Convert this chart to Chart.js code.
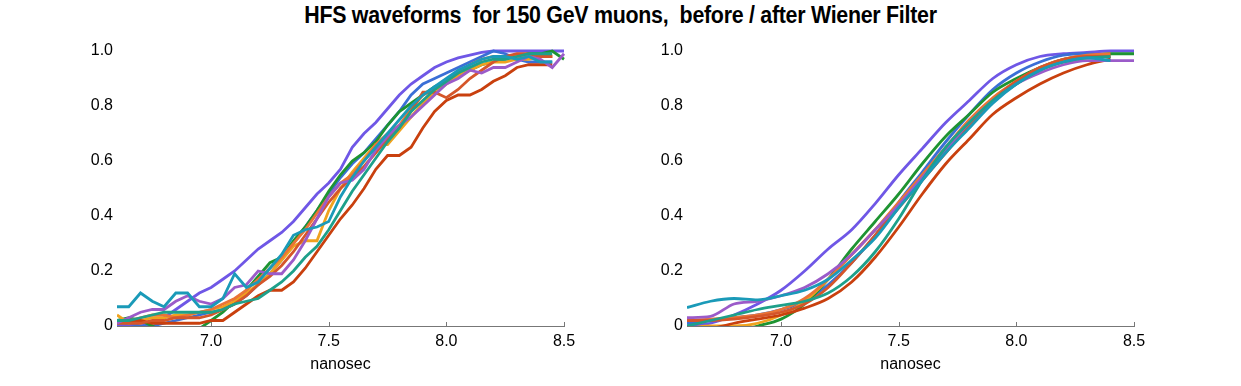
<!DOCTYPE html>
<html>
<head>
<meta charset="utf-8">
<script src="https://cdn.jsdelivr.net/npm/chart.js@4.4.1/dist/chart.umd.min.js"></script>
<style>
  body { margin: 0; background: #fff; }
  #wrap { position: relative; width: 1241px; height: 386px; overflow: hidden; }
  #title {
    position: absolute; left: 0; top: 2px; width: 1241px; text-align: center;
    font-family: "Liberation Sans", Arial, sans-serif;
    font-weight: bold; font-size: 23px; color: #000; letter-spacing: -0.3px;
    transform: scaleX(0.93); transform-origin: 620px 0;
  }
  .box { position: absolute; top: 0; width: 620px; height: 386px; }
</style>
</head>
<body>
<div id="wrap">
  <div id="title">HFS waveforms&nbsp; for 150 GeV muons,&nbsp; before / after Wiener Filter</div>
  <div class="box" style="left:0"><canvas id="rawChart"></canvas></div>
  <div class="box" style="left:570px"><canvas id="filtChart"></canvas></div>
</div>
<script>
// time samples (ns)
const rawTimes = [6.60, 6.65, 6.70, 6.75, 6.80, 6.85, 6.90, 6.95, 7.00, 7.05, 7.10, 7.15, 7.20,
  7.25, 7.30, 7.35, 7.40, 7.45, 7.50, 7.55, 7.60, 7.65, 7.70, 7.75, 7.80, 7.85, 7.90, 7.95,
  8.00, 8.05, 8.10, 8.15, 8.20, 8.25, 8.30, 8.35, 8.40, 8.45, 8.50];
const filtTimes = [6.6, 6.7, 6.8, 6.9, 7.0, 7.1, 7.2, 7.3, 7.4, 7.5, 7.6, 7.7, 7.8, 7.9,
  8.0, 8.1, 8.2, 8.3, 8.4, 8.5];

const xTicks = [7.0, 7.5, 8.0, 8.5];
const yTicks = [0, 0.2, 0.4, 0.6, 0.8, 1.0];

const colors = ['#6F57E6', '#3A6FD6', '#1E9432', '#F0A21E', '#EA7436',
  '#C9400E', '#D5562A', '#9B5BC9', '#1EA08A', '#1A9AB8'];

// before filter
const rawViolet = [0.00,0.00,0.00,0.01,0.03,0.06,0.09,0.12,0.14,0.17,0.20,0.24,0.28,0.31,0.34,0.38,0.43,0.48,0.52,0.57,0.65,0.70,0.74,0.79,0.84,0.88,0.91,0.94,0.96,0.975,0.985,0.995,1.0,1.0,1.0,1.0,1.0,1.0,1.0];
const rawBlue = [0.01,0.01,0.00,0.00,0.01,0.02,0.03,0.04,0.05,0.06,0.08,0.11,0.15,0.19,0.24,0.30,0.36,0.42,0.48,0.54,0.59,0.63,0.68,0.73,0.78,0.84,0.88,0.90,0.92,0.94,0.96,0.98,1.0,0.99,0.97,0.96,0.96,0.96];
const rawGreen = [0.02,0.03,0.02,0.00,-0.02,-0.01,-0.03,-0.01,0.02,0.05,0.09,0.13,0.18,0.23,0.25,0.31,0.36,0.42,0.49,0.55,0.60,0.63,0.67,0.73,0.78,0.81,0.84,0.87,0.89,0.91,0.93,0.95,0.96,0.97,0.98,0.99,0.99,1.0,0.97];
const rawOrange = [0.04,0.01,0.02,0.03,0.03,0.04,0.04,0.05,0.06,0.07,0.09,0.12,0.15,0.19,0.24,0.29,0.31,0.31,0.42,0.50,0.56,0.61,0.66,0.66,0.71,0.76,0.81,0.85,0.88,0.91,0.93,0.95,0.96,0.96,0.97,0.97,0.98,0.98];
const rawSalmon = [0.02,0.02,0.03,0.04,0.04,0.03,0.04,0.05,0.06,0.08,0.10,0.13,0.17,0.21,0.25,0.30,0.35,0.41,0.47,0.52,0.55,0.60,0.66,0.70,0.73,0.79,0.84,0.86,0.89,0.92,0.95,0.97,0.98,0.98,0.98,0.98,0.98,0.98];
const rawRed = [0.02,0.02,0.02,0.01,0.01,0.01,0.01,0.01,0.02,0.02,0.05,0.08,0.11,0.13,0.13,0.16,0.21,0.27,0.33,0.39,0.44,0.50,0.57,0.62,0.62,0.65,0.72,0.78,0.82,0.84,0.84,0.86,0.89,0.91,0.94,0.95,0.95,0.95];
const rawBrick = [0.01,0.01,0.01,0.02,0.02,0.03,0.03,0.03,0.04,0.06,0.08,0.11,0.15,0.18,0.22,0.27,0.33,0.39,0.45,0.50,0.54,0.58,0.63,0.68,0.72,0.78,0.85,0.85,0.83,0.86,0.90,0.93,0.96,0.98,0.99,0.99,0.98,0.98];
const rawPurple = [0.01,0.03,0.05,0.06,0.06,0.09,0.11,0.09,0.08,0.10,0.14,0.15,0.20,0.19,0.19,0.24,0.31,0.39,0.47,0.52,0.53,0.57,0.64,0.69,0.73,0.76,0.80,0.84,0.88,0.90,0.93,0.92,0.94,0.94,0.96,0.98,0.97,0.94,0.99];
const rawTeal = [0.02,0.02,0.03,0.04,0.05,0.05,0.05,0.05,0.05,0.06,0.08,0.09,0.10,0.13,0.16,0.20,0.25,0.29,0.35,0.42,0.49,0.55,0.61,0.67,0.72,0.78,0.82,0.86,0.89,0.92,0.94,0.96,0.97,0.97,0.98,0.99,0.99,0.99];
const rawCyan = [0.07,0.07,0.12,0.09,0.07,0.12,0.12,0.07,0.07,0.10,0.19,0.14,0.16,0.21,0.26,0.33,0.35,0.36,0.38,0.47,0.54,0.60,0.65,0.70,0.75,0.80,0.84,0.87,0.90,0.93,0.95,0.97,0.98,0.98,0.97,0.98,0.96,0.96];

// after Wiener filter
const filtViolet = [0.00,0.01,0.04,0.08,0.13,0.20,0.28,0.35,0.445,0.55,0.645,0.74,0.82,0.90,0.95,0.98,0.99,0.995,1.0,1.0];
const filtBlue = [0.01,0.02,0.03,0.04,0.06,0.09,0.15,0.23,0.33,0.45,0.56,0.67,0.77,0.86,0.92,0.96,0.985,0.99,0.975];
const filtGreen = [-0.04,-0.03,-0.02,0.00,0.025,0.08,0.17,0.28,0.38,0.48,0.59,0.69,0.77,0.85,0.90,0.94,0.97,0.98,0.99,0.99];
const filtOrange = [-0.01,0.00,0.00,0.01,0.04,0.09,0.17,0.26,0.35,0.44,0.54,0.64,0.74,0.82,0.89,0.93,0.96,0.975,0.98];
const filtSalmon = [0.02,0.025,0.03,0.04,0.06,0.10,0.17,0.26,0.35,0.45,0.55,0.65,0.75,0.83,0.89,0.94,0.97,0.985,0.99];
const filtRed = [-0.02,-0.01,0.01,0.025,0.04,0.065,0.10,0.16,0.25,0.36,0.48,0.59,0.68,0.77,0.83,0.88,0.92,0.95,0.97];
const filtBrick = [0.02,0.02,0.025,0.035,0.05,0.08,0.14,0.23,0.33,0.43,0.53,0.63,0.73,0.82,0.89,0.94,0.97,0.98,0.98];
const filtPurple = [0.03,0.035,0.08,0.09,0.11,0.14,0.19,0.26,0.35,0.44,0.54,0.64,0.74,0.82,0.88,0.92,0.95,0.965,0.965,0.965];
const filtTeal = [0.00,0.02,0.04,0.06,0.075,0.09,0.12,0.18,0.27,0.39,0.53,0.65,0.74,0.82,0.88,0.93,0.96,0.975,0.98];
const filtCyan = [0.067,0.09,0.10,0.095,0.11,0.13,0.17,0.24,0.32,0.43,0.53,0.63,0.72,0.81,0.88,0.93,0.96,0.975,0.965];

const rawSeries = [rawViolet, rawBlue, rawGreen, rawOrange, rawSalmon, rawRed, rawBrick, rawPurple, rawTeal, rawCyan];
const filtSeries = [filtViolet, filtBlue, filtGreen, filtOrange, filtSalmon, filtRed, filtBrick, filtPurple, filtTeal, filtCyan];

function toDatasets(times, series, tension) {
  return series.map((vals, i) => ({
    data: vals.map((v, j) => ({ x: times[j], y: v })),
    borderColor: colors[i],
    borderWidth: 2.8,
    pointRadius: 0,
    tension: tension,
    cubicInterpolationMode: tension > 0 ? 'monotone' : 'default',
    clip: { left: 0, top: 5, right: 5, bottom: 0 }
  })).reverse();
}

// short tick marks pointing up into the plot, like the original
const innerTicks = {
  id: 'innerTicks',
  afterDraw(chart) {
    const x = chart.scales.x, ctx = chart.ctx;
    ctx.save();
    ctx.strokeStyle = '#777';
    ctx.lineWidth = 1;
    xTicks.forEach(v => {
      const px = Math.round(x.getPixelForValue(v)) + 0.5;
      ctx.beginPath();
      ctx.moveTo(px, x.top);
      ctx.lineTo(px, x.top - 4);
      ctx.stroke();
    });
    ctx.restore();
  }
};

function makeChart(el, times, series, tension) {
  return new Chart(el, {
    type: 'line',
    data: { datasets: toDatasets(times, series, tension) },
    options: {
      responsive: true,
      maintainAspectRatio: false,
      animation: false,
      layout: { padding: { left: 0, top: 51, right: 56, bottom: 12 } },
      plugins: { legend: { display: false }, tooltip: { enabled: false } },
      scales: {
        x: {
          type: 'linear',
          min: 6.6,
          max: 8.5,
          afterBuildTicks: s => { s.ticks = xTicks.map(v => ({ value: v })); },
          afterFit: s => { s.height = 48; },
          grid: { display: false, drawTicks: false },
          border: { display: true, color: '#777', width: 1 },
          ticks: {
            padding: 6,
            color: '#000',
            font: { family: 'Liberation Sans, Arial, sans-serif', size: 16 },
            callback: v => v.toFixed(1),
            maxRotation: 0
          },
          title: {
            display: true,
            text: 'nanosec',
            color: '#000',
            padding: 0,
            font: { family: 'Liberation Sans, Arial, sans-serif', size: 16 }
          }
        },
        y: {
          min: 0,
          max: 1.0,
          afterBuildTicks: s => { s.ticks = yTicks.map(v => ({ value: v })); },
          afterFit: s => { s.width = 117; },
          grid: { display: false, drawTicks: false },
          border: { display: false },
          ticks: {
            padding: 4,
            color: '#000',
            font: { family: 'Liberation Sans, Arial, sans-serif', size: 16 },
            callback: v => v === 0 ? '0' : v.toFixed(1)
          }
        }
      }
    },
    plugins: [innerTicks]
  });
}

makeChart(document.getElementById('rawChart'), rawTimes, rawSeries, 0);
makeChart(document.getElementById('filtChart'), filtTimes, filtSeries, 0.4);
</script>
</body>
</html>
